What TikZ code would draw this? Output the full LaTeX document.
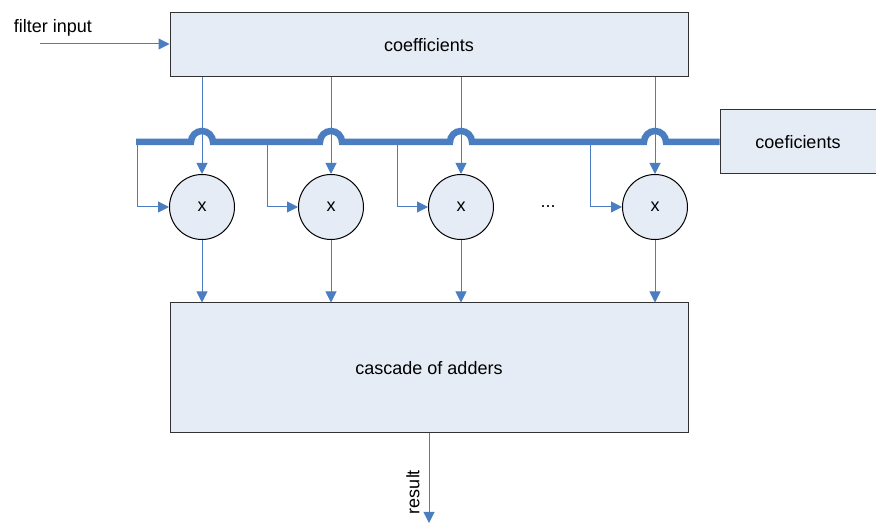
\documentclass[tikz,border=0pt]{standalone}
\usepackage{fontspec}
\setmainfont{Liberation Sans}
\usetikzlibrary{arrows.meta}
\definecolor{wire}{RGB}{74,126,192}
\definecolor{boxfill}{RGB}{230,236,246}
\definecolor{boxline}{RGB}{50,50,50}
\tikzset{
  block/.style={draw=boxline, line width=1pt, fill=boxfill, inner sep=0pt,
    font=\fontsize{18}{20}\selectfont},
  mult/.style={circle, draw=black, line width=1pt, fill=boxfill, minimum size=65pt,
    inner sep=0pt, font=\fontsize{18}{20}\selectfont},
  sig/.style={draw=wire, line width=1pt, -{Triangle[length=11pt,width=11pt]}},
  busline/.style={draw=wire, line width=6.5pt},
  lbl/.style={font=\fontsize{18}{20}\selectfont, inner sep=0pt}
}
\begin{document}
\begin{tikzpicture}[x=1pt,y=1pt]
\useasboundingbox (0,0) rectangle (876,525);

% blocks
\node[block, minimum width=518pt, minimum height=64pt] (coef) at (429,480) {coefficients};
\node[block, minimum width=156pt, minimum height=64pt] (coefr) at (798,383) {coeficients};
\node[block, minimum width=518pt, minimum height=130pt] (adders) at (429,157) {cascade of adders};

% multipliers
\node[mult] (m1) at (202,318) {x};
\node[mult] (m2) at (331,318) {x};
\node[mult] (m3) at (461,318) {x};
\node[mult] (m4) at (655,318) {x};
\node[lbl] (dots) at (548,318) {...};

% tap points on the bus
\coordinate (t1) at (137,383);
\coordinate (t2) at (267,383);
\coordinate (t3) at (397,383);
\coordinate (t4) at (590,383);

% thick coefficient bus with hops over the vertical wires
\path[busline] (136,383) -- (191,383) arc[start angle=180, end angle=0, radius=11]
  -- (320,383) arc[start angle=180, end angle=0, radius=11]
  -- (450,383) arc[start angle=180, end angle=0, radius=11]
  -- (644,383) arc[start angle=180, end angle=0, radius=11]
  -- (coefr.west);

% coefficients to multipliers
\foreach \m in {m1,m2,m3,m4}
  \draw[sig] (coef.south -| \m) -- (\m.north);

% bus taps into multipliers
\foreach \t/\m in {t1/m1,t2/m2,t3/m3,t4/m4}
  \draw[sig] (\t) |- (\m.west);

% multipliers to adders
\foreach \m in {m1,m2,m3,m4}
  \draw[sig] (\m.south) -- (adders.north -| \m);

% input and output
\node[lbl] (fin) at (53,497) {filter input};
\coordinate (inp) at (40,481);
\draw[sig] (inp) -- (inp -| coef.west);
\coordinate (out) at (429,2);
\draw[sig] (adders.south) -- (out);
\node[lbl, rotate=90] (res) at (413,33) {result};
\end{tikzpicture}
\end{document}
